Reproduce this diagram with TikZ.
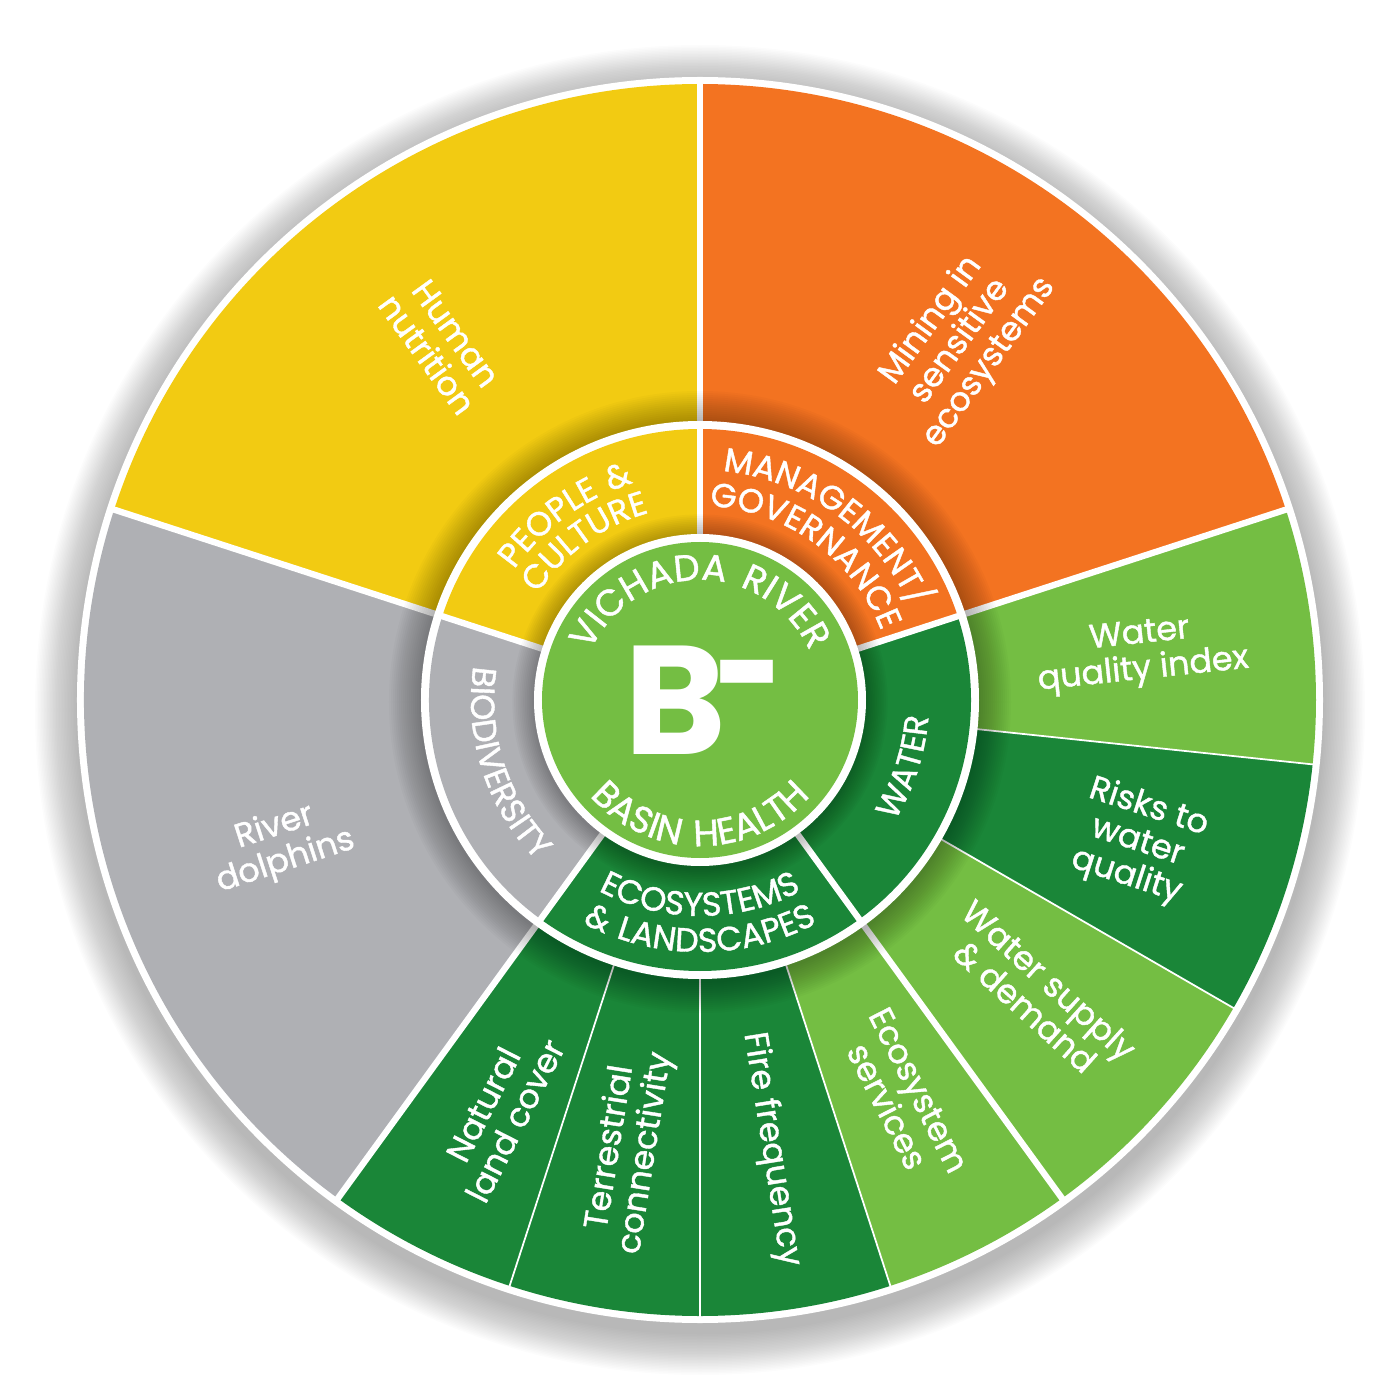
\documentclass[tikz,border=0pt]{standalone}
\usepackage{fontspec}
\setmainfont{Poppins}
\newfontfamily\labelfont[FakeBold=1.2]{Poppins}
\newfontfamily\ringfont[LetterSpace=8, FakeBold=1.2]{Poppins}
\newfontfamily\hubfont[LetterSpace=13, FakeBold=1.2]{Poppins}
\usetikzlibrary{decorations.text}
\definecolor{basinyellow}{HTML}{F2CB12}
\definecolor{basinorange}{HTML}{F37321}
\definecolor{basinlight}{HTML}{74BE43}
\definecolor{basindark}{HTML}{1A8638}
\definecolor{basingray}{HTML}{AFB0B4}
\def\sector[#1](#2:#3:#4){\fill[#1] (0,0) -- (#2:#4) arc (#2:#3:#4) -- cycle;}
\def\ringtext[#1](#2:#3:#4){\path[decorate, decoration={text along path, text align=center, text color=white, text={#1}}] (#2:#4) arc (#2:#3:#4);}
\tikzset{
  outerlabel/.style={text=white, align=center, inner sep=0pt, font=\labelfont\fontsize{9.5}{10.2}\selectfont},
  majorcut/.style={draw=white, line width=1.8pt},
  minorcut/.style={draw=white, line width=0.5pt},
}

\begin{document}
\begin{tikzpicture}
			%%%%% START %%%%%
			\useasboundingbox (-7, -7) rectangle (7, 7);
			
			% soft shadow round the wheel
			\foreach \k in {1,...,28}
				\fill[black, opacity=0.011] (0, -0.1) circle ({6.23+0.015*\k});
			\fill[white] (0, 0) circle (6.23);
			
			% outer indicators
			\sector[basinyellow](90:162:6.16)
			\sector[basinorange](18:90:6.16)
			\sector[basingray](162:234:6.16)
			\sector[basinlight](-6:18:6.16)
			\sector[basindark](-30:-6:6.16)
			\sector[basinlight](-54:-30:6.16)
			\sector[basinlight](-72:-54:6.16)
			\sector[basindark](-90:-72:6.16)
			\sector[basindark](-108:-90:6.16)
			\sector[basindark](-126:-108:6.16)
			
			\foreach \a in {18, 90, 162, 234, 306}
				\draw[majorcut] (\a:2.7) -- (\a:6.18);
			\foreach \a in {-6, -30, -72, -90, -108}
				\draw[minorcut] (\a:2.7) -- (\a:6.18);
			
			% shadow of the middle ring
			\foreach \k in {1,...,16}
				\fill[black, opacity=0.02] (0, -0.02) circle ({2.79+0.02*\k});
			\fill[white] (0, 0) circle (2.79);
			
			% middle ring
			\sector[basinyellow](90:162:2.71)
			\sector[basinorange](18:90:2.71)
			\sector[basingray](162:234:2.71)
			\sector[basindark](-54:18:2.71)
			\sector[basindark](-126:-54:2.71)
			\foreach \a in {18, 90, 162, 234, 306}
				\draw[majorcut] (\a:1.6) -- (\a:2.75);
			
			% shadow of the hub
			\foreach \k in {1,...,12}
				\fill[black, opacity=0.025] (0, -0.02) circle ({1.66+0.018*\k});
			\fill[white] (0, 0) circle (1.66);
			\fill[basinlight] (0, 0) circle (1.58);
			
			% hub
			\node[text=white, inner sep=0pt, font=\fontsize{44}{44}\selectfont\bfseries] (grade) at (-0.25, 0) {B};
			\node[text=white, inner sep=0pt, anchor=base, font=\fontsize{40}{40}\selectfont\bfseries] (minus) at (0.49, -0.29) {\scalebox{0.85}[1.15]{-}};
			\ringtext[|\hubfont\fontsize{10.5}{11}\selectfont|VICHADA RIVER](178:2:1.2)
			\ringtext[|\hubfont\fontsize{10.5}{11}\selectfont|BASIN HEALTH](188:352:1.46)
			
			% middle ring labels
			\ringtext[|\ringfont\fontsize{9.5}{10}\selectfont|PEOPLE {\&}](162:90:2.27)
			\ringtext[|\ringfont\fontsize{9.5}{10}\selectfont|CULTURE](162:90:1.94)
			\ringtext[|\ringfont\fontsize{9.5}{10}\selectfont|MANAGEMENT/](90:18:2.30)
			\ringtext[|\ringfont\fontsize{9.5}{10}\selectfont|GOVERNANCE](90:18:1.94)
			\ringtext[|\ringfont\fontsize{9.5}{10}\selectfont|WATER](-54:18:2.29)
			\ringtext[|\ringfont\fontsize{9.5}{10}\selectfont|BIODIVERSITY](162:234:2.29)
			\ringtext[|\ringfont\fontsize{9.5}{10}\selectfont|ECOSYSTEMS](234:306:2.16)
			\ringtext[|\ringfont\fontsize{9.5}{10}\selectfont|{\&} LANDSCAPES](234:306:2.52)
			
			% outer labels
			\node[outerlabel, rotate=-54] (nutrition) at (126:4.40) {Human\\nutrition};
			\node[outerlabel, rotate=54] (mining) at (54:4.43) {Mining in\\sensitive\\ecosystems};
			\node[outerlabel, rotate=18] (dolphins) at (199:4.44) {River\\dolphins};
			\node[outerlabel, rotate=6] (wqindex) at (6:4.44) {Water\\quality index};
			\node[outerlabel, rotate=-18] (wqrisks) at (-18:4.60) {Risks to\\water\\quality};
			\node[outerlabel, rotate=-42] (supply) at (-41:4.47) {Water supply\\\& demand};
			\node[outerlabel, rotate=-63] (services) at (-63:4.47) {Ecosystem\\services};
			\node[outerlabel, rotate=-81] (fire) at (-81:4.55) {Fire frequency};
			\node[outerlabel, rotate=81] (connectivity) at (-99:4.56) {Terrestrial\\connectivity};
			\node[outerlabel, rotate=63] (landcover) at (-116:4.59) {Natural\\land cover};
			%%%%% END %%%%%
\end{tikzpicture}
\end{document}
